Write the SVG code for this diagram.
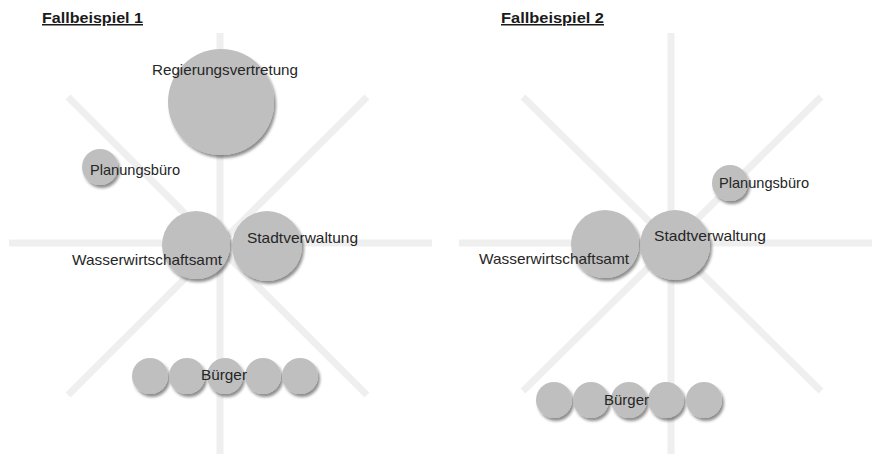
<svg xmlns="http://www.w3.org/2000/svg" width="872" height="454" viewBox="0 0 872 454">
<style>
.ax{stroke:#efefef;stroke-width:7;fill:none;stroke-linecap:butt}
.n{fill:#bfbfbf;filter:url(#sh)}
.t{font-family:"Liberation Sans","Open Sans",sans-serif;font-size:14.5px;fill:#262626}
.h{font-family:"Liberation Sans","Open Sans",sans-serif;font-size:15px;font-weight:bold;fill:#1a1a1a;text-decoration:underline}
</style>
<defs>
<filter id="sh" x="-30%" y="-30%" width="170%" height="170%">
<feGaussianBlur in="SourceAlpha" stdDeviation="1.6"/>
<feOffset dx="2" dy="3" result="b"/>
<feComponentTransfer><feFuncA type="linear" slope="0.45"/></feComponentTransfer>
<feMerge><feMergeNode/><feMergeNode in="SourceGraphic"/></feMerge>
</filter>
</defs>
<rect width="872" height="454" fill="#ffffff"/>
<g id="connectors">
<line class="ax" x1="220" y1="33" x2="220" y2="454"/>
<line class="ax" x1="9" y1="243" x2="432" y2="243"/>
<line class="ax" x1="68" y1="97" x2="367" y2="395"/>
<line class="ax" x1="367" y1="97" x2="68" y2="395"/>
<line class="ax" x1="671" y1="33" x2="671" y2="454"/>
<line class="ax" x1="459" y1="243" x2="872" y2="243"/>
<line class="ax" x1="523" y1="97" x2="821" y2="391"/>
<line class="ax" x1="821" y1="97" x2="523" y2="391"/>
</g>
<g id="title1"><text class="h" x="42" y="23" textLength="101" lengthAdjust="spacingAndGlyphs">Fallbeispiel 1</text></g>
<g id="title2"><text class="h" x="501" y="23" textLength="103" lengthAdjust="spacingAndGlyphs">Fallbeispiel 2</text></g>
<g id="regierungsvertretung">
<circle class="n" cx="221" cy="102" r="53"/>
<text class="t" x="152" y="75" textLength="146" lengthAdjust="spacingAndGlyphs">Regierungsvertretung</text>
</g>
<g id="planungsbuero1">
<circle class="n" cx="100" cy="167" r="18"/>
<text class="t" x="90" y="175" textLength="90" lengthAdjust="spacingAndGlyphs">Planungsbüro</text>
</g>
<g id="wasserwirtschaftsamt1">
<circle class="n" cx="196" cy="245" r="34"/>
</g>
<g id="stadtverwaltung1">
<circle class="n" cx="267" cy="246" r="35"/>
<text class="t" x="247" y="243" textLength="111" lengthAdjust="spacingAndGlyphs">Stadtverwaltung</text>
</g>
<text class="t" x="72" y="265" textLength="150" lengthAdjust="spacingAndGlyphs">Wasserwirtschaftsamt</text>
<g id="buerger1">
<circle class="n" cx="150" cy="376" r="18"/>
<circle class="n" cx="187" cy="376" r="18"/>
<circle class="n" cx="225" cy="376" r="18"/>
<circle class="n" cx="263" cy="376" r="18"/>
<circle class="n" cx="300" cy="376" r="18"/>
<text class="t" x="201" y="380" textLength="46" lengthAdjust="spacingAndGlyphs">Bürger</text>
</g>
<g id="planungsbuero2">
<circle class="n" cx="730" cy="183" r="18"/>
<text class="t" x="719" y="188" textLength="90" lengthAdjust="spacingAndGlyphs">Planungsbüro</text>
</g>
<g id="wasserwirtschaftsamt2">
<circle class="n" cx="605" cy="244" r="34"/>
</g>
<g id="stadtverwaltung2">
<circle class="n" cx="675" cy="245" r="35"/>
<text class="t" x="654" y="241" textLength="112" lengthAdjust="spacingAndGlyphs">Stadtverwaltung</text>
</g>
<text class="t" x="479" y="264" textLength="150" lengthAdjust="spacingAndGlyphs">Wasserwirtschaftsamt</text>
<g id="buerger2">
<circle class="n" cx="554" cy="400" r="18"/>
<circle class="n" cx="591" cy="400" r="18"/>
<circle class="n" cx="629" cy="400" r="18"/>
<circle class="n" cx="666" cy="400" r="18"/>
<circle class="n" cx="704" cy="400" r="18"/>
<text class="t" x="604" y="405" textLength="45" lengthAdjust="spacingAndGlyphs">Bürger</text>
</g>
</svg>
